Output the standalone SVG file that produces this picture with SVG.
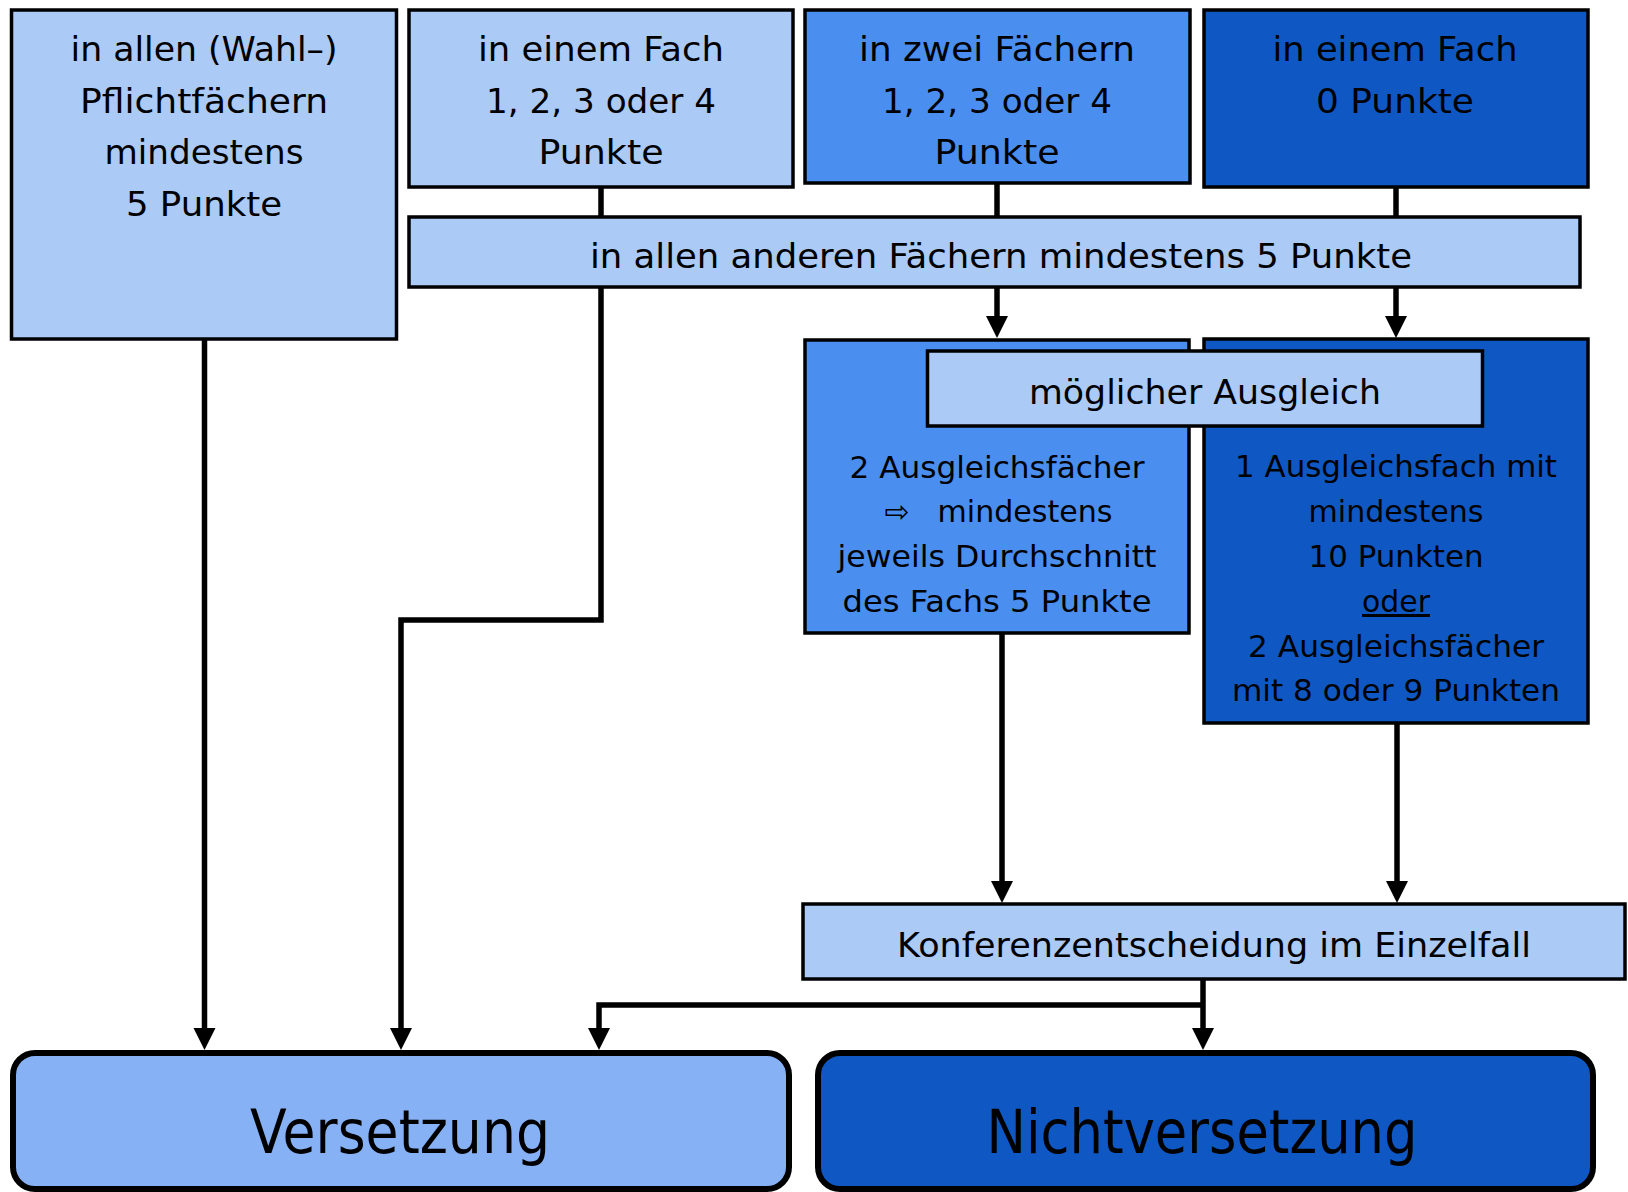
<svg xmlns="http://www.w3.org/2000/svg" width="1628" height="1192" viewBox="0 0 1628 1192">
<style>
.box{stroke:#000;stroke-width:3.5}
.l1{fill:#abcaf6}
.m{fill:#4a8ef0}
.d{fill:#0f58c3}
.v{fill:#86b1f4}
.big{stroke:#000;stroke-width:6}
.t{font-family:"DejaVu Sans","Liberation Sans",sans-serif;font-size:33px;fill:#000;text-anchor:middle}
.s{font-size:30px}
.b{font-size:61px}
.c{fill:none;stroke:#000;stroke-width:5.5}
</style>
<defs>
<marker id="ah" markerUnits="userSpaceOnUse" markerWidth="24" markerHeight="24" refX="8" refY="11" orient="auto">
<path d="M0,0 L22,11 L0,22 z" fill="#000"/>
</marker>
</defs>
<g id="connectors">
<path class="c" d="M204.5 339 V1036" marker-end="url(#ah)"/>
<path class="c" d="M601 187 V217"/>
<path class="c" d="M601 287 V620 H401 V1036" marker-end="url(#ah)"/>
<path class="c" d="M997 183 V217"/>
<path class="c" d="M997 287 V324" marker-end="url(#ah)"/>
<path class="c" d="M1396 187 V217"/>
<path class="c" d="M1396 287 V324" marker-end="url(#ah)"/>
<path class="c" d="M1002 633 V889" marker-end="url(#ah)"/>
<path class="c" d="M1397 723 V889" marker-end="url(#ah)"/>
<path class="c" d="M1203 979 V1036" marker-end="url(#ah)"/>
<path class="c" d="M1203 1005 H599 V1036" marker-end="url(#ah)"/>
</g>
<g id="n1">
<rect class="box l1" x="11.5" y="10" width="385" height="329"/>
<text class="t" x="204" y="61" textLength="267" lengthAdjust="spacingAndGlyphs">in allen (Wahl–)</text>
<text class="t" x="204" y="113" textLength="248" lengthAdjust="spacingAndGlyphs">Pflichtfächern</text>
<text class="t" x="204" y="164" textLength="199" lengthAdjust="spacingAndGlyphs">mindestens</text>
<text class="t" x="204" y="216" textLength="156" lengthAdjust="spacingAndGlyphs">5 Punkte</text>
</g>
<g id="n2">
<rect class="box l1" x="409" y="10" width="384" height="177"/>
<text class="t" x="601" y="61" textLength="246" lengthAdjust="spacingAndGlyphs">in einem Fach</text>
<text class="t" x="601" y="113" textLength="230" lengthAdjust="spacingAndGlyphs">1, 2, 3 oder 4</text>
<text class="t" x="601" y="164" textLength="125" lengthAdjust="spacingAndGlyphs">Punkte</text>
</g>
<g id="n3">
<rect class="box m" x="805" y="10" width="385" height="173"/>
<text class="t" x="997" y="61" textLength="276" lengthAdjust="spacingAndGlyphs">in zwei Fächern</text>
<text class="t" x="997" y="113" textLength="230" lengthAdjust="spacingAndGlyphs">1, 2, 3 oder 4</text>
<text class="t" x="997" y="164" textLength="125" lengthAdjust="spacingAndGlyphs">Punkte</text>
</g>
<g id="n4">
<rect class="box d" x="1204" y="10" width="384" height="177"/>
<text class="t" x="1395" y="61" textLength="245" lengthAdjust="spacingAndGlyphs">in einem Fach</text>
<text class="t" x="1395" y="113" textLength="158" lengthAdjust="spacingAndGlyphs">0 Punkte</text>
</g>
<g id="n5">
<rect class="box l1" x="409" y="217" width="1171" height="70"/>
<text class="t" x="1001" y="268" textLength="822" lengthAdjust="spacingAndGlyphs">in allen anderen Fächern mindestens 5 Punkte</text>
</g>
<g id="n6">
<rect class="box m" x="805" y="340" width="384" height="293"/>
<text class="t s" x="997" y="478" textLength="295" lengthAdjust="spacingAndGlyphs">2 Ausgleichsfächer</text>
<text class="t s" x="897" y="522">⇨</text>
<text class="t s" x="1025" y="522" textLength="175" lengthAdjust="spacingAndGlyphs">mindestens</text>
<text class="t s" x="997" y="567" textLength="319" lengthAdjust="spacingAndGlyphs">jeweils Durchschnitt</text>
<text class="t s" x="997" y="612" textLength="309" lengthAdjust="spacingAndGlyphs">des Fachs 5 Punkte</text>
</g>
<g id="n7">
<rect class="box d" x="1204" y="339" width="384" height="384"/>
<text class="t s" x="1396" y="477" textLength="322" lengthAdjust="spacingAndGlyphs">1 Ausgleichsfach mit</text>
<text class="t s" x="1396" y="522" textLength="175" lengthAdjust="spacingAndGlyphs">mindestens</text>
<text class="t s" x="1396" y="567" textLength="175" lengthAdjust="spacingAndGlyphs">10 Punkten</text>
<text class="t s" x="1396" y="612" textLength="68" lengthAdjust="spacingAndGlyphs" text-decoration="underline">oder</text>
<text class="t s" x="1396" y="657" textLength="296" lengthAdjust="spacingAndGlyphs">2 Ausgleichsfächer</text>
<text class="t s" x="1396" y="701" textLength="328" lengthAdjust="spacingAndGlyphs">mit 8 oder 9 Punkten</text>
</g>
<g id="n8">
<rect class="box l1" x="927.5" y="351" width="555" height="75"/>
<text class="t" x="1205" y="404" textLength="352" lengthAdjust="spacingAndGlyphs">möglicher Ausgleich</text>
</g>
<g id="n9">
<rect class="box l1" x="803" y="904" width="822" height="75"/>
<text class="t" x="1214" y="957" textLength="634" lengthAdjust="spacingAndGlyphs">Konferenzentscheidung im Einzelfall</text>
</g>
<g id="n10">
<rect class="big v" x="13" y="1053" width="776" height="136" rx="22" ry="22"/>
<text class="t b" x="400" y="1153" textLength="300" lengthAdjust="spacingAndGlyphs">Versetzung</text>
</g>
<g id="n11">
<rect class="big d" x="818" y="1053" width="775" height="136" rx="22" ry="22"/>
<text class="t b" x="1202" y="1153" textLength="431" lengthAdjust="spacingAndGlyphs">Nichtversetzung</text>
</g>
</svg>
